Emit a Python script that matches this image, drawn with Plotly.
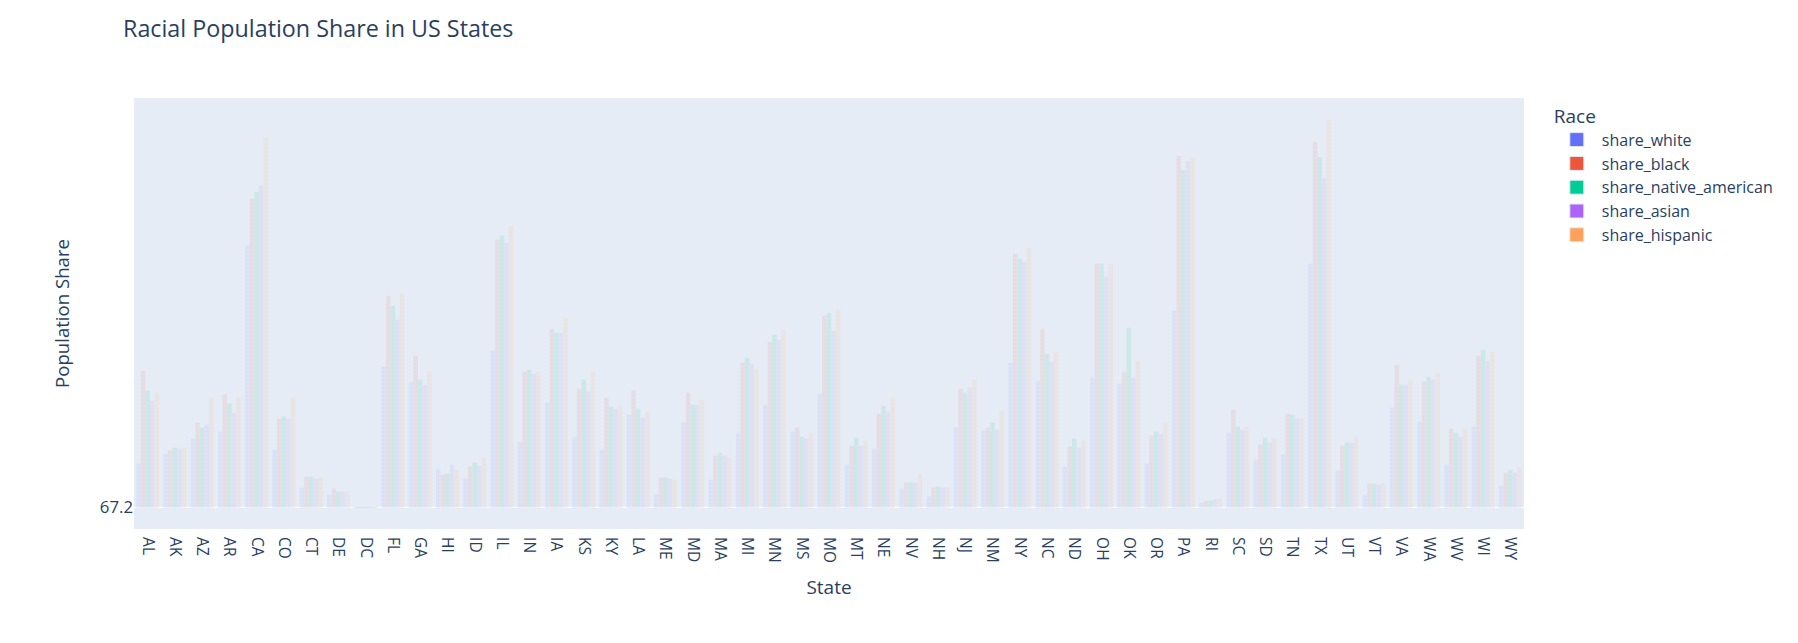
import plotly.graph_objects as go

states = ["AL","AK","AZ","AR","CA","CO","CT","DE","DC","FL","GA","HI","ID","IL","IN","IA","KS",
          "KY","LA","ME","MD","MA","MI","MN","MS","MO","MT","NE","NV","NH","NJ","NM","NY","NC",
          "ND","OH","OK","OR","PA","RI","SC","SD","TN","TX","UT","VT","VA","WA","WV","WI","WY"]

# Bar heights (the reference's y axis is categorical, one visible tick)
share_white = [44,54,69,76,263,58,20,13,0.5,141,126,39,29,157,66,105,71,
               58,93,13,85,28,75,103,76,114,43,59,19,11,80,77,145,127,
               41,131,124,44,197,5,75,48,53,244,37,12,100,86,43,81,22]
share_black = [137,57,85,113,309,89,31,19,0.5,212,152,33,41,268,136,179,119,
               110,117,30,115,52,145,166,80,192,62,94,25,20,119,80,254,179,
               61,244,136,72,352,7,98,63,94,366,62,24,143,126,79,152,35]
share_native_american = [117,60,80,104,316,91,31,16,0.5,202,128,34,45,272,138,175,128,
                         101,99,30,103,55,150,173,71,195,70,102,25,21,115,85,249,154,
                         69,244,180,76,338,7,81,70,93,351,65,24,123,131,75,158,38]
share_asian = [107,59,83,95,323,89,29,16,0.5,188,123,43,42,265,134,175,116,
               99,90,29,103,52,144,168,69,177,62,96,25,20,120,78,246,146,
               60,231,130,74,347,8,78,65,89,330,65,23,123,128,71,147,35]
share_hispanic = [115,60,110,110,371,110,30,16,0.5,214,136,38,50,282,136,190,136,
                  102,96,28,108,50,139,178,75,198,67,110,34,20,128,97,260,156,
                  67,244,147,85,350,9,81,69,90,388,71,24,128,135,79,156,40]

series = ["share_white","share_black","share_native_american","share_asian","share_hispanic"]
values = [share_white,share_black,share_native_american,share_asian,share_hispanic]
legend_colors = ["#636EFA","#EF553B","#00CC96","#AB63FA","#FFA15A"]
bar_colors = ["#DCE3F6","#E6DEE4","#CDE8E8","#E0E0F5","#E8E5E6"]
stripe_colors = ["#D3DCF5","#E3D9DF","#C6E4E5","#DBDBF4","#E6E1E0"]
tick_labels = ["67.2"]

fig = go.Figure()
for name, vals, bc, sc in zip(series, values, bar_colors, stripe_colors):
    fig.add_trace(go.Bar(x=states, y=vals, name=name, legendgroup=name, showlegend=False,
                         marker=dict(color=bc, line=dict(width=0),
                                     pattern=dict(shape="-", fgcolor=sc, bgcolor=bc,
                                                  size=4, solidity=0.3))))
# Solid legend swatches: the reference's fills only read at full strength in the legend
for name, lc in zip(series, legend_colors):
    fig.add_trace(go.Scatter(x=[None], y=[None], name=name, legendgroup=name, mode="markers",
                             marker=dict(symbol="square", size=14, color=lc,
                                         line=dict(color="#E5ECF6", width=1))))

fig.update_layout(
    template="plotly",
    width=1790, height=627,
    margin=dict(l=126, r=274, t=90, b=106),
    barmode="group", bargap=0.16,
    font=dict(size=16.5),
    title=dict(text="Racial Population Share in US States", font=dict(size=23.3),
               x=115/1790, xref="container", xanchor="left", y=1-21/627, yanchor="middle"),
    legend=dict(title=dict(text="Race", font=dict(size=19)), font=dict(size=16), y=1, yanchor="top",
                tracegroupgap=0, itemwidth=40),
    xaxis=dict(title=dict(text="State", font=dict(size=19), standoff=18.5), tickangle=90, showgrid=False,
               automargin=False, tickfont=dict(size=15.5), ticks="outside", ticklen=4, tickcolor="rgba(0,0,0,0)",
               categoryorder="array", categoryarray=states),
    yaxis=dict(title=dict(text="Population Share", font=dict(size=18.6), standoff=25), range=[-21.5, 410],
               automargin=False, tickvals=[0], ticktext=tick_labels, tickfont=dict(size=16.8), zeroline=False),
)
fig.write_html("out.html")
